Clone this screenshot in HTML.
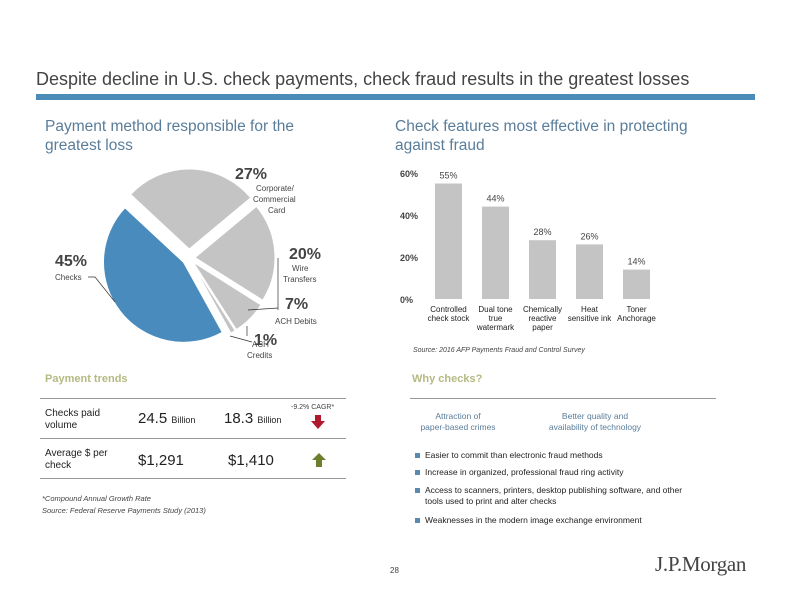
<!DOCTYPE html>
<html><head><meta charset="utf-8"><style>
body{margin:0;width:792px;height:612px;background:#fff;font-family:"Liberation Sans",sans-serif;position:relative;overflow:hidden}
.a{position:absolute;white-space:nowrap}
</style></head><body>
<div class="a" style="left:36px;top:69px;font-size:18px;color:#444">Despite decline in U.S. check payments, check fraud results in the greatest losses</div>
<div class="a" style="left:36px;top:94px;width:719px;height:6px;background:#4a8bb8"></div>
<div class="a" style="left:45px;top:117px;font-size:15.5px;color:#5a7d9a;line-height:19px">Payment method responsible for the<br>greatest loss</div>
<div class="a" style="left:395px;top:117px;font-size:15.5px;color:#5a7d9a;line-height:19px">Check features most effective in protecting<br>against fraud</div>

<svg class="a" style="left:0;top:150px" width="380" height="215" id="pie"></svg>
<svg class="a" style="left:380px;top:160px" width="290" height="200" id="bar"></svg>

<div class="a" style="left:45px;top:373px;font-size:11px;font-weight:bold;color:#b5ba82">Payment trends</div>
<div class="a" style="left:40px;top:398px;width:306px;height:1px;background:#999"></div>
<div class="a" style="left:40px;top:438px;width:306px;height:1px;background:#999"></div>
<div class="a" style="left:40px;top:478px;width:306px;height:1px;background:#999"></div>
<div class="a" style="left:45px;top:408px;font-size:10px;color:#222;line-height:12px">Checks paid<br>volume</div>
<div class="a" style="left:138px;top:410px;font-size:15px;color:#222">24.5 <span style="font-size:9px">Billion</span></div>
<div class="a" style="left:224px;top:410px;font-size:15px;color:#222">18.3 <span style="font-size:9px">Billion</span></div>
<div class="a" style="left:291px;top:404px;font-size:7px;color:#444">-9.2% CAGR*</div>
<svg class="a" style="left:311px;top:415px" width="14" height="14"><polygon points="4,0 10,0 10,6 14,6 7,14 0,6 4,6" fill="#b0182c"/></svg>
<div class="a" style="left:45px;top:448px;font-size:10px;color:#222;line-height:12px">Average $ per<br>check</div>
<div class="a" style="left:138px;top:452px;font-size:15px;color:#222">$1,291</div>
<div class="a" style="left:228px;top:452px;font-size:15px;color:#222">$1,410</div>
<svg class="a" style="left:312px;top:453px" width="14" height="14"><polygon points="7,0 14,7 10,7 10,14 4,14 4,7 0,7" fill="#6d7f2f"/></svg>
<div class="a" style="left:42px;top:494px;font-size:7.5px;font-style:italic;color:#444">*Compound Annual Growth Rate</div>
<div class="a" style="left:42px;top:506px;font-size:7.5px;font-style:italic;color:#444">Source: Federal Reserve Payments Study (2013)</div>

<div class="a" style="left:412px;top:373px;font-size:11px;font-weight:bold;color:#b5ba82">Why checks?</div>
<div class="a" style="left:410px;top:398px;width:306px;height:1px;background:#999"></div>
<div class="a" style="left:408px;top:411px;width:100px;text-align:center;font-size:8.5px;color:#5a7d9a;line-height:11px">Attraction of<br>paper-based crimes</div>
<div class="a" style="left:535px;top:411px;width:120px;text-align:center;font-size:8.5px;color:#5a7d9a;line-height:11px">Better quality and<br>availability of technology</div>
<div class="a" style="left:415px;top:450px;font-size:8.5px;color:#222;line-height:11px">
<div style="position:absolute;top:0"><span style="display:inline-block;width:5px;height:5px;background:#5a8ab0;margin-right:5px"></span>Easier to commit than electronic fraud methods</div>
<div style="position:absolute;top:17px"><span style="display:inline-block;width:5px;height:5px;background:#5a8ab0;margin-right:5px"></span>Increase in organized, professional fraud ring activity</div>
<div style="position:absolute;top:35px"><span style="display:inline-block;width:5px;height:5px;background:#5a8ab0;margin-right:5px"></span>Access to scanners, printers, desktop publishing software, and other<br><span style="margin-left:10px">tools used to print and alter checks</span></div>
<div style="position:absolute;top:65px"><span style="display:inline-block;width:5px;height:5px;background:#5a8ab0;margin-right:5px"></span>Weaknesses in the modern image exchange environment</div>
</div>
<div class="a" style="left:390px;top:566px;font-size:8px;color:#444">28</div>
<div class="a" style="left:655px;top:552px;font-family:'Liberation Serif',serif;font-size:21px;color:#444;letter-spacing:-0.3px">J.P.Morgan</div>

<script>
const NS='http://www.w3.org/2000/svg';
function mk(p,t,a){const e=document.createElementNS(NS,t);for(const k in a)e.setAttribute(k,a[k]);p.appendChild(e);return e;}
// Pie data
const pieLabels=['Corporate/ Commercial Card','Wire Transfers','ACH Debits','ACH Credits','Checks'];
const pieValues=[27,20,7,1,45];
const pieColors=['#c4c4c4','#c4c4c4','#c4c4c4','#c4c4c4','#4a8bbd'];
const pieExplode=[9,6,6,6,7];
const pie=document.getElementById('pie');
const cx=189,cy=108,R=80,startDeg=313;
let acc=0;const tot=pieValues.reduce((a,b)=>a+b,0);
pieValues.forEach((v,i)=>{
 const a0=(startDeg+acc/tot*360)*Math.PI/180;acc+=v;
 const a1=(startDeg+acc/tot*360)*Math.PI/180;const am=(a0+a1)/2;
 const ox=cx+pieExplode[i]*Math.sin(am),oy=cy-pieExplode[i]*Math.cos(am);
 const x0=ox+R*Math.sin(a0),y0=oy-R*Math.cos(a0),x1=ox+R*Math.sin(a1),y1=oy-R*Math.cos(a1);
 const large=(a1-a0)>Math.PI?1:0;
 const p=mk(pie,'path',{d:`M${ox},${oy}L${x0},${y0}A${R},${R} 0 ${large} 1 ${x1},${y1}Z`,fill:pieColors[i],stroke:'#fff','stroke-width':1});
 
 
});
function txt(p,x,y,s,sz,opts){const t=mk(p,'text',Object.assign({x:x,y:y,'font-size':sz,fill:'#444','font-family':'Liberation Sans, sans-serif'},opts||{}));t.textContent=s;return t;}
const pl=[
 [[235,29,'27%',16,{'font-weight':'bold'}],[256,41,'Corporate/',8,{}],[253,52,'Commercial',8,{}],[268,63,'Card',8,{}]],
 [[289,109,'20%',16,{'font-weight':'bold'}],[292,121,'Wire',8,{}],[283,132,'Transfers',8,{}]],
 [[285,159,'7%',16,{'font-weight':'bold'}],[275,174,'ACH Debits',8,{}]],
 [[254,195,'1%',16,{'font-weight':'bold'}],[252,197,'ACH',8,{}],[247,208,'Credits',8,{}]],
 [[55,116,'45%',16,{'font-weight':'bold'}],[55,130,'Checks',8,{}]]];
pl.forEach((g,i)=>g.forEach(a=>{const t=txt(pie,a[0],a[1],a[2],a[3],a[4]);}));
mk(pie,'polyline',{points:'88,127 95,127 115,152',fill:'none',stroke:'#333','stroke-width':0.7});
mk(pie,'line',{x1:278,y1:108,x2:278,y2:160,stroke:'#333','stroke-width':0.7});
mk(pie,'line',{x1:248,y1:160,x2:278,y2:158,stroke:'#333','stroke-width':0.7});
mk(pie,'line',{x1:247,y1:176,x2:247,y2:186,stroke:'#333','stroke-width':0.7});
mk(pie,'line',{x1:230,y1:186,x2:252,y2:192,stroke:'#333','stroke-width':0.7});

// Bar data
const barCats=[['Controlled','check stock'],['Dual tone','true','watermark'],['Chemically','reactive','paper'],['Heat','sensitive ink'],['Toner','Anchorage']];
const barValues=[55,44,28,26,14];
const barLabels=['55%','44%','28%','26%','14%'];
const yTicks=[0,20,40,60];
const bar=document.getElementById('bar');
const y0=139,yMax=60,ph=126;
const ys=v=>y0-v/yMax*ph;
const xs=i=>55+i*47;
yTicks.forEach(t=>{const e=txt(bar,20,ys(t)+4,t+'%',9,{'font-weight':'bold'});});
barValues.forEach((v,i)=>{
 const r=mk(bar,'rect',{x:xs(i),y:ys(v),width:27,height:y0-ys(v),fill:'#c4c4c4'});
 
 
 const l=txt(bar,xs(i)+13.5,ys(v)-5,barLabels[i],9,{'text-anchor':'middle'});
 
 
 barCats[i].forEach((s,j)=>{const c=txt(bar,xs(i)+13.5,y0+13+j*9,s,8,{'text-anchor':'middle',fill:'#222'});});
});
const src=txt(bar,33,192,'Source: 2016 AFP Payments Fraud and Control Survey',7,{'font-style':'italic'});


</script>
</body></html>
